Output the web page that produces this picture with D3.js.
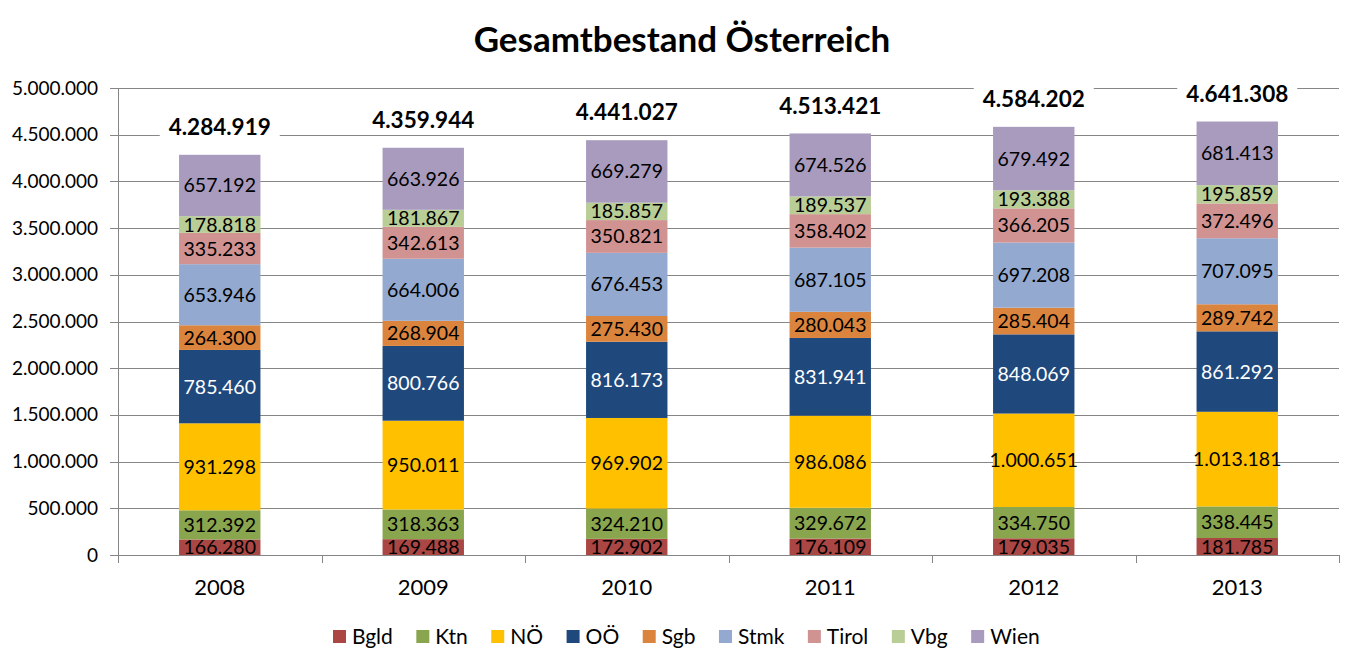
<!DOCTYPE html>
<html><head><meta charset="utf-8">
<script src="https://cdn.jsdelivr.net/npm/d3@7"></script>
<style>body{margin:0;background:#fff}svg{display:block}</style>
</head><body>
<svg id="c" width="1365" height="670"></svg>
<script>
const years = ["2008","2009","2010","2011","2012","2013"];
const regions = ["Bgld","Ktn","NÖ","OÖ","Sgb","Stmk","Tirol","Vbg","Wien"];
const colors = ["#AA4643","#89A54E","#FFC000","#1F497D","#DB843D","#93A9CF","#D19392","#B9CD96","#A99BBD"];
const Bgld = [166280,169488,172902,176109,179035,181785];
const Ktn = [312392,318363,324210,329672,334750,338445];
const NOe = [931298,950011,969902,986086,1000651,1013181];
const OOe = [785460,800766,816173,831941,848069,861292];
const Sgb = [264300,268904,275430,280043,285404,289742];
const Stmk = [653946,664006,676453,687105,697208,707095];
const Tirol = [335233,342613,350821,358402,366205,372496];
const Vbg = [178818,181867,185857,189537,193388,195859];
const Wien = [657192,663926,669279,674526,679492,681413];
const totals = [4284919,4359944,4441027,4513421,4584202,4641308];
const yTicks = [0,500000,1000000,1500000,2000000,2500000,3000000,3500000,4000000,4500000,5000000];
const title = "Gesamtbestand Österreich";

const series = [Bgld,Ktn,NOe,OOe,Sgb,Stmk,Tirol,Vbg,Wien];
const font = "Lato, 'Open Sans', sans-serif";
const fmt = v => d3.format(",")(v).replace(/,/g,".");

const svg = d3.select("#c");
const L = 118, R = 1339, T = 88, B = 555;
const x = d3.scaleBand().domain(years).range([L,R]).paddingInner(0.6).paddingOuter(0.3);
const xb = d3.scaleBand().domain(years).range([L,R]);
const y = d3.scaleLinear().domain([0,5000000]).range([B,T]);

// title
svg.append("text").attr("x",682).attr("y",52).attr("text-anchor","middle")
  .style("font-family",font).style("font-weight","bold").style("font-size","35px").text(title);

// gridlines
svg.append("g").selectAll("line").data(yTicks).join("line")
  .attr("x1",L-8).attr("x2",R).attr("y1",d=>Math.round(y(d))+0.5).attr("y2",d=>Math.round(y(d))+0.5)
  .attr("stroke","#868686").attr("stroke-width",1);

// y axis
const ya = svg.append("g").attr("transform",`translate(${L},0)`)
  .call(d3.axisLeft(y).tickValues(yTicks).tickFormat(fmt).tickSize(0).tickPadding(20));
ya.select(".domain").remove();
ya.selectAll("text").style("font-family",font).style("font-size","19px").attr("fill","#000");

svg.append("line").attr("x1",L+0.5).attr("x2",L+0.5).attr("y1",T).attr("y2",B+8).attr("stroke","#868686");
// x category ticks
svg.append("g").selectAll("line").data(years.map(d=>xb(d)).concat([R])).join("line")
  .attr("x1",d=>Math.round(d)+0.5).attr("x2",d=>Math.round(d)+0.5).attr("y1",B).attr("y2",B+8).attr("stroke","#868686");
svg.append("g").selectAll("text").data(years).join("text")
  .attr("x",d=>xb(d)+xb.bandwidth()/2).attr("y",B+40).attr("text-anchor","middle")
  .style("font-family",font).style("font-size","22px").text(d=>d);

// stacks
const rows = years.map((yr,i)=>{const o={year:yr}; regions.forEach((r,k)=>o[r]=series[k][i]); return o;});
const stack = d3.stack().keys(regions)(rows);
const g = svg.append("g");
stack.forEach((s,k)=>{
  const gg = g.append("g");
  gg.selectAll("rect").data(s).join("rect")
    .attr("x",d=>x(d.data.year)).attr("width",x.bandwidth())
    .attr("y",d=>y(d[1])).attr("height",d=>y(d[0])-y(d[1]))
    .attr("fill",colors[k]);
});
stack.forEach((s,k)=>{
  g.append("g").selectAll("text").data(s).join("text")
    .attr("x",d=>x(d.data.year)+x.bandwidth()/2)
    .attr("y",d=>(y(d[0])+y(d[1]))/2).attr("dy","0.36em").attr("text-anchor","middle")
    .attr("fill",k===3?"#fff":"#000")
    .style("font-family",font).style("font-size","19.5px")
    .text(d=>fmt(d.data[regions[k]]));
});

// totals
const tg = svg.append("g").selectAll("g").data(years).join("g");
tg.append("rect").attr("x",d=>x(d)+x.bandwidth()/2-60).attr("width",120)
  .attr("y",(d,i)=>y(totals[i])-43).attr("height",30).attr("fill","#fff");
tg.append("text").attr("x",d=>x(d)+x.bandwidth()/2).attr("y",(d,i)=>y(totals[i])-28)
  .attr("dy","0.36em").attr("text-anchor","middle")
  .style("font-family",font).style("font-weight","bold").style("font-size","22.5px")
  .text((d,i)=>fmt(totals[i]));

// legend
const lg = svg.append("g").attr("transform","translate(333,636.5)");
let lx = 0;
regions.forEach((r,k)=>{
  const it = lg.append("g").attr("transform",`translate(${lx},0)`);
  it.append("rect").attr("x",0).attr("y",-6.5).attr("width",13).attr("height",13).attr("fill",colors[k]);
  const t = it.append("text").attr("x",19).attr("y",0).attr("dy","0.36em")
    .style("font-family",font).style("font-size","21px").text(r);
  lx += 19 + t.node().getComputedTextLength() + 23.5;
});
</script>
</body></html>
